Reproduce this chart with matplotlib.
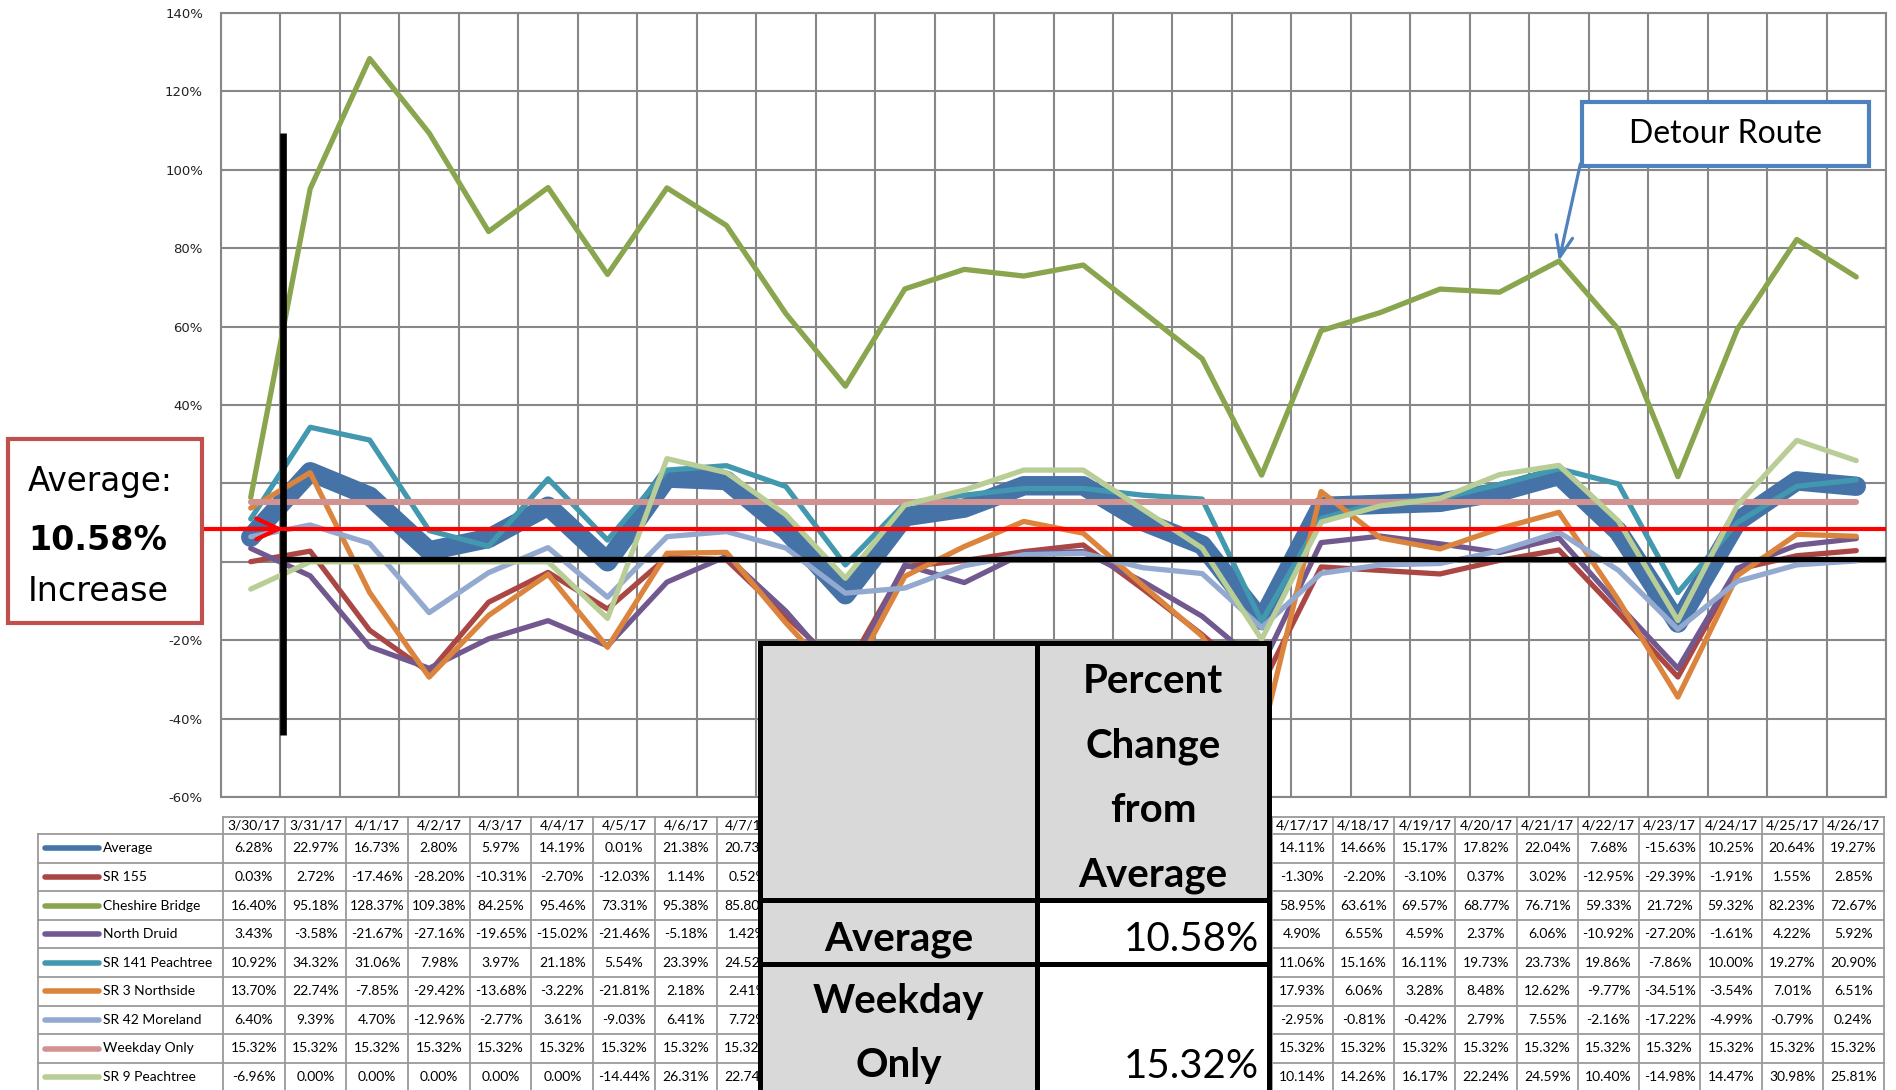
import matplotlib
matplotlib.use("Agg")
import matplotlib.pyplot as plt
from matplotlib.patches import Rectangle
import numpy as np

# ---------------- data ----------------
dates = ["3/30/17", "3/31/17", "4/1/17", "4/2/17", "4/3/17", "4/4/17", "4/5/17",
         "4/6/17", "4/7/17", "4/8/17", "4/9/17", "4/10/17", "4/11/17", "4/12/17",
         "4/13/17", "4/14/17", "4/15/17", "4/16/17", "4/17/17", "4/18/17", "4/19/17",
         "4/20/17", "4/21/17", "4/22/17", "4/23/17", "4/24/17", "4/25/17", "4/26/17"]

average = [6.28, 22.97, 16.73, 2.80, 5.97, 14.19, 0.01, 21.38, 20.73, 8.1, -8.4, 11.5,
           13.7, 19.4, 19.4, 10.3, 4.3, -15.0, 14.11, 14.66, 15.17, 17.82, 22.04, 7.68,
           -15.63, 10.25, 20.64, 19.27]
sr155 = [0.03, 2.72, -17.46, -28.20, -10.31, -2.70, -12.03, 1.14, 0.52, -13.9, -28.0, -1.2,
         0.3, 2.6, 4.3, -6.9, -18.6, -31.6, -1.30, -2.20, -3.10, 0.37, 3.02, -12.95,
         -29.39, -1.91, 1.55, 2.85]
cheshire = [16.40, 95.18, 128.37, 109.38, 84.25, 95.46, 73.31, 95.38, 85.80, 63.3, 44.8,
            69.6, 74.6, 72.9, 75.7, 63.8, 51.8, 22.1, 58.95, 63.61, 69.57, 68.77, 76.71,
            59.33, 21.72, 59.32, 82.23, 72.67]
north_druid = [3.43, -3.58, -21.67, -27.16, -19.65, -15.02, -21.46, -5.18, 1.42, -12.6,
               -30.0, -0.8, -5.3, 2.2, 2.6, -5.0, -13.9, -26.6, 4.90, 6.55, 4.59, 2.37,
               6.06, -10.92, -27.20, -1.61, 4.22, 5.92]
sr141 = [10.92, 34.32, 31.06, 7.98, 3.97, 21.18, 5.54, 23.39, 24.52, 19.2, -0.8, 14.9,
         17.0, 18.7, 18.7, 17.0, 16.0, -15.2, 11.06, 15.16, 16.11, 19.73, 23.73, 19.86,
         -7.86, 10.00, 19.27, 20.90]
sr3 = [13.70, 22.74, -7.85, -29.42, -13.68, -3.22, -21.81, 2.18, 2.41, -15.6, -32.0, -3.7,
       3.9, 10.3, 7.3, -6.0, -19.0, -45.0, 17.93, 6.06, 3.28, 8.48, 12.62, -9.77, -34.51,
       -3.54, 7.01, 6.51]
sr42 = [6.40, 9.39, 4.70, -12.96, -2.77, 3.61, -9.03, 6.41, 7.72, 3.5, -8.0, -6.7, -1.0,
        1.8, 2.2, -1.5, -3.0, -16.8, -2.95, -0.81, -0.42, 2.79, 7.55, -2.16, -17.22,
        -4.99, -0.79, 0.24]
weekday = [15.32, 15.32, 15.32, 15.32, 15.32, 15.32, 15.32, 15.32, 15.32, 15.32, 15.32,
           15.32, 15.32, 15.32, 15.32, 15.32, 15.32, 15.32, 15.32, 15.32, 15.32, 15.32,
           15.32, 15.32, 15.32, 15.32, 15.32, 15.32]
sr9 = [-6.96, 0.00, 0.00, 0.00, 0.00, 0.00, -14.44, 26.31, 22.74, 12.0, -4.2, 14.5, 18.3,
       23.4, 23.4, 13.4, 3.5, -19.8, 10.14, 14.26, 16.17, 22.24, 24.59, 10.40, -14.98,
       14.47, 30.98, 25.81]

series_names = ["Average", "SR 155", "Cheshire Bridge", "North Druid", "SR 141 Peachtree",
                "SR 3 Northside", "SR 42 Moreland", "Weekday Only", "SR 9 Peachtree"]
series_values = [average, sr155, cheshire, north_druid, sr141, sr3, sr42, weekday, sr9]
series_colors = ["#4572A7", "#AA4643", "#89A54E", "#71588F", "#4198AF", "#DB843D",
                 "#93A9CF", "#D19392", "#B9CD96"]
series_widths = [14, 3.8, 3.8, 3.8, 3.8, 3.8, 3.8, 4.4, 3.8]

summary_labels = ["Average", "Weekday\nOnly"]
summary_values = [10.58, 15.32]
overall_average = 10.58
detour_index = 22
y_ticks = [-60, -40, -20, 0, 20, 40, 60, 80, 100, 120, 140]

# ---------------- figure ----------------
W, H = 1896, 1090
fig = plt.figure(figsize=(W / 100, H / 100), dpi=100)
PL, PR, PT, PB = 221, 1886, 13, 797
ax = fig.add_axes([PL / W, 1 - PB / H, (PR - PL) / W, (PB - PT) / H])
n = len(dates)
x = np.arange(n)
ax.set_xlim(-0.5, n - 0.5)
ax.set_ylim(-60, 140)
ax.set_xticks(np.arange(-0.5, n, 1))
ax.set_xticklabels([])
ax.set_yticks(y_ticks)
ax.set_yticklabels([f"{t}%" for t in y_ticks], fontsize=9.5, color="#222222",
                   family="DejaVu Sans")
ax.tick_params(length=0, pad=13)
ax.grid(True, color="#878787", lw=1.5)
ax.set_axisbelow(True)
for sp in ax.spines.values():
    sp.set_color("#878787")
    sp.set_linewidth(1.5)

for vals, col, lw in zip(series_values, series_colors, series_widths):
    ax.plot(x, vals, color=col, lw=lw, solid_joinstyle="round",
            solid_capstyle="round", zorder=3)

# annotation shapes
ax.plot([0.55, 0.55], [109.4, -44.2], color="black", lw=4.8, zorder=10,
        solid_capstyle="butt")
ax.plot([0.55, n - 0.5], [0.7, 0.7], color="black", lw=3.8, zorder=10,
        solid_capstyle="butt")
red_y = 8.4
ax.plot([-0.85, n - 0.5], [red_y, red_y], color="#FF0000", lw=3, zorder=11,
        clip_on=False, solid_capstyle="butt")
ax.annotate("", xy=(0.55, red_y), xytext=(-0.2, red_y),
            arrowprops=dict(arrowstyle="->,head_length=1.6,head_width=0.75",
                            color="#FF0000", lw=3, shrinkA=0, shrinkB=0),
            zorder=11, annotation_clip=False)

# Detour route callout
ax.add_patch(Rectangle((22.38, 100.9), 27.22 - 22.38, 117.3 - 100.9, facecolor="white",
                       edgecolor="#4F81BD", lw=3, zorder=12))
ax.text((22.38 + 27.22) / 2, 109.1, "Detour Route", ha="center", va="center",
        fontsize=23, family="Lato", zorder=13)
ax.annotate("", xy=(detour_index, cheshire[detour_index]), xytext=(22.36, 101.5),
            arrowprops=dict(arrowstyle="->,head_length=1.5,head_width=0.6",
                            color="#4F81BD", lw=2.3, shrinkA=0, shrinkB=0),
            zorder=12)

# ---------------- overlay axes (pixel coords) ----------------
tax = fig.add_axes([0, 0, 1, 1])
tax.set_xlim(0, W)
tax.set_ylim(H, 0)
tax.axis("off")
tax.patch.set_visible(False)

# summary overlay table geometry
tl, tm, tr = 760, 1037, 1269
tt, r1, r2, tb = 643, 900, 964, 1100

# data table
grid_c = "#9A9A9A"
left_edges = list(np.linspace(223, 778.3, 10))
mid_edges = list(np.linspace(778.3, 1271.7, 10))[1:]
right_edges = list(np.linspace(1271.7, 1884, 11))[1:]
col_edges = left_edges + mid_edges + right_edges
head_top, head_bot = 817, 834
row_h = 28.6
row_edges = [head_bot + row_h * k for k in range(len(series_names) + 1)]
leg_left = 38


def hidden(j):
    return col_edges[j] >= tl - 1 and col_edges[j + 1] <= tr + 3


for j, d in enumerate(dates):
    if hidden(j):
        continue
    cx = (col_edges[j] + col_edges[j + 1]) / 2
    tax.text(cx, (head_top + head_bot) / 2 + 0.5, d, ha="center", va="center",
             fontsize=10, family="Lato")
for i, (name, vals, col) in enumerate(zip(series_names, series_values, series_colors)):
    cy = (row_edges[i] + row_edges[i + 1]) / 2
    tax.plot([45, 99], [cy, cy], color=col, lw=4, solid_capstyle="round")
    tax.text(103, cy, name, ha="left", va="center", fontsize=10, family="Lato")
    for j, v in enumerate(vals):
        if hidden(j):
            continue
        cx = (col_edges[j] + col_edges[j + 1]) / 2
        tax.text(cx, cy, f"{v:.2f}%", ha="center", va="center", fontsize=10,
                 family="Lato")
# table grid
tax.plot([col_edges[0], col_edges[-1]], [head_top, head_top], color=grid_c, lw=1.3)
for ry in row_edges:
    tax.plot([leg_left, col_edges[-1]], [ry, ry], color=grid_c, lw=1.3)
for cxe in col_edges:
    tax.plot([cxe, cxe], [head_top, row_edges[-1]], color=grid_c, lw=1.3)
tax.plot([leg_left, leg_left], [head_bot, row_edges[-1]], color=grid_c, lw=1.3)

gray = "#D9D9D9"
tax.add_patch(Rectangle((tl, tt), tr - tl, r1 - tt, facecolor=gray, edgecolor="none",
                        zorder=20))
tax.add_patch(Rectangle((tl, r1), tm - tl, tb - r1, facecolor=gray, edgecolor="none",
                        zorder=20))
tax.add_patch(Rectangle((tm, r1), tr - tm, tb - r1, facecolor="white", edgecolor="none",
                        zorder=20))
blk = dict(color="black", lw=3.6, zorder=21, solid_capstyle="projecting")
tax.plot([tl, tr], [tt, tt], **blk)
tax.plot([tl, tr], [r1, r1], **blk)
tax.plot([tl, tr], [r2, r2], **blk)
tax.plot([tl, tl], [tt, tb], **blk)
tax.plot([tm, tm], [tt, tb], **blk)
tax.plot([tr, tr], [tt, tb], **blk)

head_lines = ["Percent", "Change", "from", "Average"]
for k, s in enumerate(head_lines):
    tax.text((tm + tr) / 2, 693 + 64.5 * k, s, ha="center", va="baseline", fontsize=29,
             fontweight="bold", family="Lato", zorder=22)
tax.text((tl + tm) / 2, 951, summary_labels[0], ha="center", va="baseline", fontsize=29,
         fontweight="bold", family="Lato", zorder=22)
tax.text(tr - 10, 951, f"{summary_values[0]:.2f}%", ha="right", va="baseline",
         fontsize=29, family="Lato", zorder=22)
for k, s in enumerate(summary_labels[1].split("\n")):
    tax.text((tl + tm) / 2, 1013 + 64 * k, s, ha="center", va="baseline", fontsize=29,
             fontweight="bold", family="Lato", zorder=22)
tax.text(tr - 10, 1078, f"{summary_values[1]:.2f}%", ha="right", va="baseline",
         fontsize=29, family="Lato", zorder=22)

# Average callout box
tax.add_patch(Rectangle((8, 439), 194, 184, facecolor="white", edgecolor="#C0504D",
                        lw=3, zorder=20))
tax.text(28, 491, "Average:", ha="left", va="baseline", fontsize=23.5,
         family="DejaVu Sans", zorder=21)
tax.text(28, 550, f"{overall_average:.2f}%", ha="left", va="baseline", fontsize=24,
         fontweight="bold", family="DejaVu Sans", zorder=21)
tax.text(28, 601, "Increase", ha="left", va="baseline", fontsize=24,
         family="DejaVu Sans", zorder=21)

fig.savefig("out.png", dpi=100)
